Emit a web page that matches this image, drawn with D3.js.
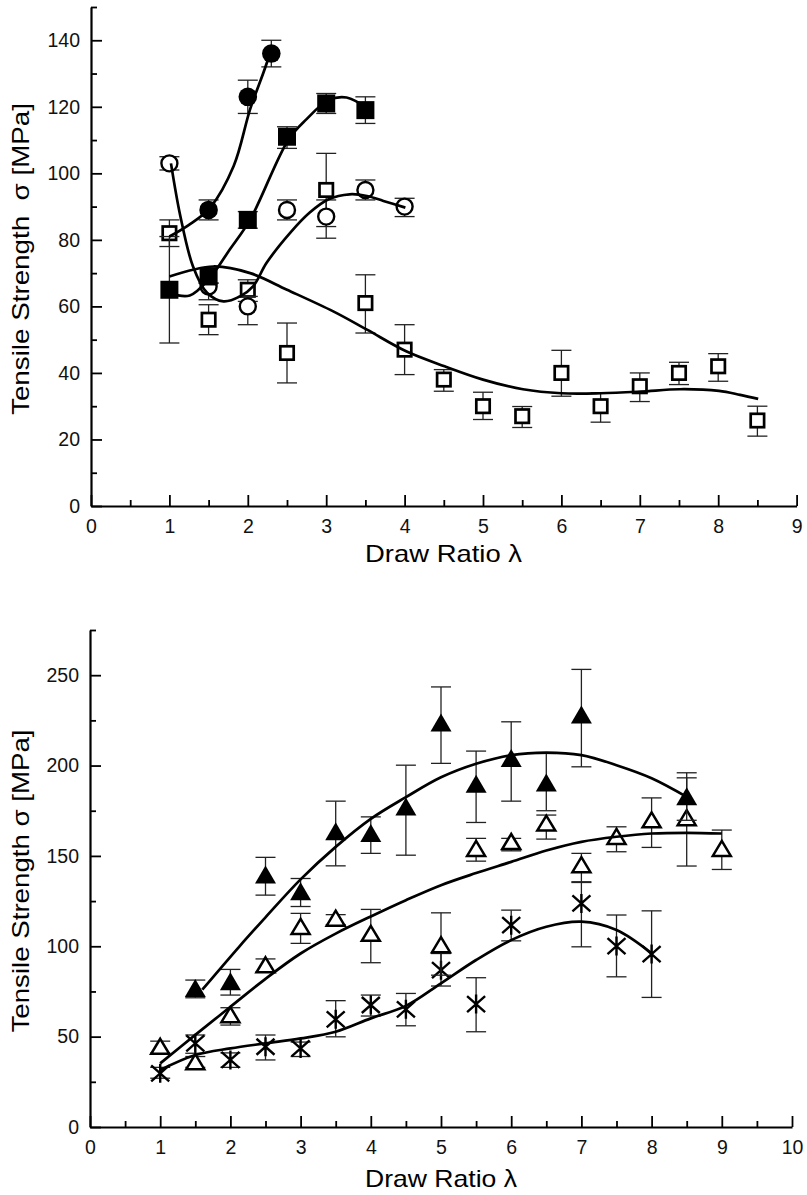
<!DOCTYPE html>
<html>
<head>
<meta charset="utf-8">
<script src="https://cdn.jsdelivr.net/npm/d3@7"></script>
<style>
  body { margin: 0; background: #fff; }
  svg { display: block; font-family: "Liberation Sans", Arial, Helvetica, sans-serif; }
</style>
</head>
<body>
<svg id="chart" width="807" height="1195"></svg>
<script>
// ---- top panel data (draw ratio vs tensile strength) ----
const filledCircleX = [1.5, 2, 2.3];
const filledCircleY = [89, 123, 136];
const filledCircleLo = [86, 118, 132];
const filledCircleHi = [92, 128, 140];
const filledCircleFit = [[1, 81], [1.25, 84.5], [1.52, 89.7], [1.82, 102.2], [2.03, 119.3], [2.2, 130.3], [2.28, 135.8]];

const filledSquareX = [1, 1.5, 2, 2.5, 3, 3.5];
const filledSquareY = [65, 69, 86, 111, 121, 119];
const filledSquareLo = [49, 67, 83.5, 107.5, 118, 115];
const filledSquareHi = [81, 71.5, 88.5, 114, 124, 123];
const filledSquareFit = [[1, 64], [1.26, 63.3], [1.52, 68.7], [1.77, 77.1], [2.03, 86.1], [2.52, 110.2], [2.75, 116.3], [3.03, 122], [3.26, 122.8], [3.54, 119.3]];

const openCircleX = [1, 1.5, 2, 2.5, 3, 3.5, 4];
const openCircleY = [103, 66, 60, 89, 87, 95, 90];
const openCircleLo = [101, 62, 54.5, 86, 80.5, 92, 87];
const openCircleHi = [105, 67, 63, 92, 92, 98, 92.5];
const openCircleFit = [[1.02, 103], [1.14, 87.1], [1.3, 72.1], [1.48, 64.1], [1.69, 61.5], [1.9, 63], [2.07, 66.1], [2.24, 73.1], [2.54, 82.1], [2.79, 88.2], [3.03, 92.2], [3.3, 93.7], [3.52, 93.2], [3.73, 91.7], [4.01, 89.7]];

const openSquareX = [1, 1.5, 2, 2.5, 3, 3.5, 4, 4.5, 5, 5.5, 6, 6.5, 7, 7.5, 8, 8.5];
const openSquareY = [82, 56, 65, 46, 95, 61, 47, 38, 30, 27, 40, 30, 36, 40, 42, 25.7];
const openSquareLo = [78, 51.5, 61.5, 37, 84, 52, 39.5, 34.5, 26, 23.6, 33, 25.2, 31.4, 36.5, 37.5, 21];
const openSquareHi = [86, 60.5, 68, 55, 106, 69.5, 54.5, 41, 34.2, 29.9, 46.8, 34, 40, 43.2, 45.8, 30];
const openSquareFit = [[1, 69], [1.56, 72], [2.03, 70], [2.5, 65], [3.09, 58.5], [3.52, 53], [4.02, 46.5], [4.51, 42], [5, 38], [5.51, 35.1], [6, 33.9], [6.5, 33.9], [7.01, 34.4], [7.51, 35.1], [8.01, 34.6], [8.28, 33.4], [8.51, 32.2]];

const topYTicks = [0, 20, 40, 60, 80, 100, 120, 140];
const topYMinor = [10, 30, 50, 70, 90, 110, 130, 150];
const topXTicks = [0, 1, 2, 3, 4, 5, 6, 7, 8, 9];
const topXMinor = [0.5, 1.5, 2.5, 3.5, 4.5, 5.5, 6.5, 7.5, 8.5];

// ---- bottom panel data ----
const filledTriX = [1.5, 2, 2.5, 3, 3.5, 4, 4.5, 5, 5.5, 6, 6.5, 7, 8.5];
const filledTriY = [76.7, 80.4, 139.4, 130.2, 163.3, 162.4, 177, 223.6, 189.7, 203.9, 190.4, 227.9, 182.7];
const filledTriLo = [71.5, 73, 128.3, 122, 144.5, 151.4, 150.4, 201.2, 168.5, 180.3, 175, 199.3, 169.7];
const filledTriHi = [81.3, 87.2, 149.2, 137.5, 180.3, 171.6, 200.2, 243.5, 208, 224.2, 206.7, 253.2, 196];
const filledTriFit = [[1.6, 76], [2.13, 100], [2.5, 116], [3, 137], [3.5, 155], [4, 170.5], [4.5, 182.5], [5, 193.5], [5.5, 201], [6, 205.8], [6.5, 207.2], [7, 205.8], [7.5, 200.2], [8, 193], [8.5, 182.7]];

const openTriX = [1, 1.5, 2, 2.5, 3, 3.5, 4, 5, 5.5, 6, 6.5, 7, 7.5, 8, 8.5, 9];
const openTriY = [44.5, 36, 62, 89.6, 110.8, 115.4, 107, 100.7, 154, 157.8, 168, 145, 160.6, 169.8, 171, 154];
const openTriLo = [41, 33, 56.4, 86, 101.6, 112, 90.9, 84, 147.1, 152.8, 159.3, 135.3, 152.3, 154.7, 144.4, 142.5];
const openTriHi = [47.5, 39, 66, 93, 118.2, 117.5, 120.4, 118.5, 159.7, 159.7, 172.6, 151.4, 166.1, 182.1, 193.2, 164.3];
const openTriFit = [[1, 35.2], [1.5, 51], [2, 66.5], [2.5, 82], [3, 96], [3.5, 107], [4, 116.5], [4.5, 125.5], [5, 133.8], [5.5, 140.5], [6, 146.7], [6.5, 153], [7, 157.8], [7.5, 160.6], [8, 162.4], [8.5, 162.8], [9, 162.4]];

const starX = [1, 1.5, 2, 2.5, 3, 3.5, 4, 4.5, 5, 5.5, 6, 7, 7.5, 8];
const starY = [29.7, 46.3, 37.1, 44.4, 43.5, 59.6, 67.5, 65.1, 86.8, 68, 111.7, 123.7, 100.1, 95.7];
const starLo = [27, 40.8, 33, 37.1, 39, 49.9, 61.4, 56, 78, 52.7, 103, 99.7, 83.1, 71.7];
const starHi = [33, 50.9, 41, 50.9, 47, 69.9, 73, 73.9, 96, 82.6, 120, 135.7, 117.3, 119.6];
const starFit = [[1, 31.5], [1.5, 39.8], [2, 43.5], [2.5, 46.3], [3, 49], [3.5, 52.7], [4, 60.1], [4.5, 67], [5, 79.5], [5.5, 92.4], [6, 103.4], [6.5, 110.8], [7, 113.6], [7.5, 109], [8, 96.1]];

const botYTicks = [0, 50, 100, 150, 200, 250];
const botYMinor = [25, 75, 125, 175, 225, 275];
const botXTicks = [0, 1, 2, 3, 4, 5, 6, 7, 8, 9, 10];
const botXMinor = [0.5, 1.5, 2.5, 3.5, 4.5, 5.5, 6.5, 7.5, 8.5, 9.5];

const svg = d3.select('#chart');

const zip = (xs, ys, los, his) => xs.map((x, i) => ({ x, y: ys[i], lo: los[i], hi: his[i] }));

// marker drawers, centred on 0,0
const markers = {
  filledCircle: g => g.append('circle').attr('r', 9.3).attr('fill', '#000'),
  openCircle: g => g.append('circle').attr('r', 8).attr('fill', '#fff').attr('stroke', '#000').attr('stroke-width', 2.4),
  filledSquare: g => g.append('rect').attr('x', -9).attr('y', -9).attr('width', 18).attr('height', 18).attr('fill', '#000'),
  openSquare: g => g.append('rect').attr('x', -6.7).attr('y', -6.7).attr('width', 13.4).attr('height', 13.4)
    .attr('fill', '#fff').attr('stroke', '#000').attr('stroke-width', 2.7),
  filledTri: g => g.append('path').attr('d', 'M0,-9.5L10.5,8.5L-10.5,8.5Z').attr('fill', '#000'),
  openTri: g => g.append('path').attr('d', 'M0,-7.8L9,7.2L-9,7.2Z')
    .attr('fill', '#fff').attr('stroke', '#000').attr('stroke-width', 2.5).attr('stroke-linejoin', 'miter'),
  star: g => g.append('path').attr('d', 'M0,-9.5V9.5M-9,-8L9,8M-9,8L9,-8')
    .attr('fill', 'none').attr('stroke', '#000').attr('stroke-width', 2.4)
};

function drawPanel(p) {
  const x = d3.scaleLinear().domain(p.xDomain).range([p.left, p.right]);
  const y = d3.scaleLinear().domain(p.yDomain).range([p.bottom, p.top]);
  const g = svg.append('g');

  // axes: ticks pointing inward
  g.append('g').attr('transform', `translate(${p.left},0)`)
    .call(d3.axisLeft(y).tickValues(p.yTicks).tickSize(-11).tickSizeOuter(0).tickPadding(11));
  g.append('g').attr('transform', `translate(${p.left},0)`)
    .call(d3.axisLeft(y).tickValues(p.yMinor).tickSize(-6).tickFormat(''))
    .select('.domain').remove();
  g.append('g').attr('transform', `translate(0,${p.bottom})`)
    .call(d3.axisBottom(x).tickValues(p.xTicks).tickSize(-11).tickSizeOuter(0).tickPadding(13));
  g.append('g').attr('transform', `translate(0,${p.bottom})`)
    .call(d3.axisBottom(x).tickValues(p.xMinor).tickSize(-6).tickFormat(''))
    .select('.domain').remove();

  g.selectAll('.domain').attr('stroke-width', 2.2);
  g.selectAll('.tick line').attr('stroke-width', 1.8);
  g.selectAll('.tick text').attr('font-size', 19.5).attr('font-family', '"Liberation Sans", Arial, sans-serif').attr('fill', '#111');

  // axis titles
  g.append('text')
    .attr('transform', `translate(29,${p.yTitleY}) rotate(-90)`)
    .attr('text-anchor', 'middle')
    .attr('font-size', 24)
    .attr('textLength', p.yTitleLen)
    .attr('lengthAdjust', 'spacingAndGlyphs')
    .text(p.yTitle);
  g.append('text')
    .attr('x', p.xTitleX).attr('y', p.xTitleBase)
    .attr('text-anchor', 'middle')
    .attr('font-size', 24)
    .attr('textLength', p.xTitleLen)
    .attr('lengthAdjust', 'spacingAndGlyphs')
    .text('Draw Ratio λ');

  // error bars and symbols
  p.series.forEach(s => {
    const pts = zip(s.x, s.y, s.lo, s.hi);
    const eb = g.append('g').attr('stroke', '#222').attr('stroke-width', 1.3);
    pts.forEach(d => {
      const cx = x(d.x);
      eb.append('line').attr('x1', cx).attr('x2', cx).attr('y1', y(d.lo)).attr('y2', y(d.hi));
      eb.append('line').attr('x1', cx - 10).attr('x2', cx + 10).attr('y1', y(d.lo)).attr('y2', y(d.lo));
      eb.append('line').attr('x1', cx - 10).attr('x2', cx + 10).attr('y1', y(d.hi)).attr('y2', y(d.hi));
    });
    pts.forEach(d => {
      const m = g.append('g').attr('transform', `translate(${x(d.x)},${y(d.y)})`);
      markers[s.marker](m);
    });
  });

  // fitted curves
  const line = d3.line()
    .x(d => x(d[0]))
    .y(d => y(d[1]))
    .curve(d3.curveCatmullRom.alpha(0.5));
  p.series.forEach(s => {
    g.append('path')
      .datum(s.fit)
      .attr('fill', 'none')
      .attr('stroke', '#000')
      .attr('stroke-width', 2.7)
      .attr('d', line);
  });
}

drawPanel({
  xDomain: [0, 9], yDomain: [0, 150],
  left: 91, right: 796.6, bottom: 506, top: 7,
  yTicks: topYTicks, yMinor: topYMinor, xTicks: topXTicks, xMinor: topXMinor,
  yTitle: 'Tensile Strength\u00A0 σ [MPa]', yTitleY: 259, yTitleLen: 312,
  xTitleX: 443.5, xTitleBase: 562, xTitleLen: 157,
  series: [
    { marker: 'openSquare', x: openSquareX, y: openSquareY, lo: openSquareLo, hi: openSquareHi, fit: openSquareFit },
    { marker: 'openCircle', x: openCircleX, y: openCircleY, lo: openCircleLo, hi: openCircleHi, fit: openCircleFit },
    { marker: 'filledSquare', x: filledSquareX, y: filledSquareY, lo: filledSquareLo, hi: filledSquareHi, fit: filledSquareFit },
    { marker: 'filledCircle', x: filledCircleX, y: filledCircleY, lo: filledCircleLo, hi: filledCircleHi, fit: filledCircleFit }
  ]
});

drawPanel({
  xDomain: [0, 10], yDomain: [0, 275],
  left: 90, right: 792, bottom: 1127, top: 630,
  yTicks: botYTicks, yMinor: botYMinor, xTicks: botXTicks, xMinor: botXMinor,
  yTitle: 'Tensile Strength σ [MPa]', yTitleY: 881, yTitleLen: 303,
  xTitleX: 441, xTitleBase: 1187, xTitleLen: 152,
  series: [
    { marker: 'star', x: starX, y: starY, lo: starLo, hi: starHi, fit: starFit },
    { marker: 'openTri', x: openTriX, y: openTriY, lo: openTriLo, hi: openTriHi, fit: openTriFit },
    { marker: 'filledTri', x: filledTriX, y: filledTriY, lo: filledTriLo, hi: filledTriHi, fit: filledTriFit }
  ]
});
</script>
</body>
</html>
